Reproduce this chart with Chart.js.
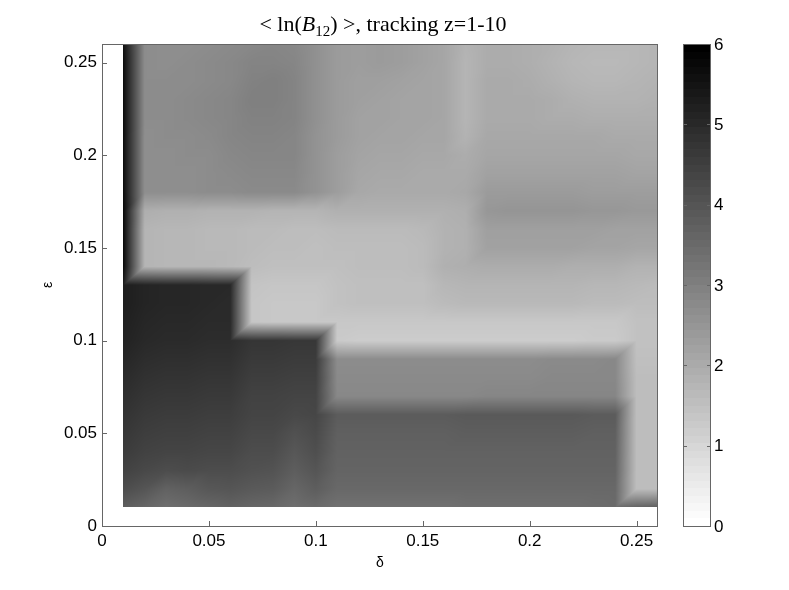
<!DOCTYPE html>
<html>
<head>
<meta charset="utf-8">
<script src="https://cdn.jsdelivr.net/npm/chart.js@4.4.1/dist/chart.umd.min.js"></script>
<style>
  html, body { margin: 0; padding: 0; background: #fff; }
</style>
</head>
<body>
<canvas id="c" width="789" height="590"></canvas>
<script>
// ── Data: <ln(B12)> on the (delta, epsilon) grid ──

const deltaGrid = [0.01, 0.02, 0.03, 0.04, 0.05, 0.06, 0.07, 0.08, 0.09, 0.10, 0.11, 0.12, 0.13,
                   0.14, 0.15, 0.16, 0.17, 0.18, 0.19, 0.20, 0.21, 0.22, 0.23, 0.24, 0.25, 0.26];
const epsGrid   = [0.01, 0.02, 0.03, 0.04, 0.05, 0.06, 0.07, 0.08, 0.09, 0.10, 0.11, 0.12, 0.13,
                   0.14, 0.15, 0.16, 0.17, 0.18, 0.19, 0.20, 0.21, 0.22, 0.23, 0.24, 0.25, 0.26];

// one row per epsilon value, columns follow deltaGrid
const e01 = [3.8, 3.6, 3.4, 3.5, 3.6, 3.7, 3.6, 3.55, 3.4, 3.5, 3.35, 3.35, 3.35, 3.35, 3.35, 3.35, 3.4, 3.4, 3.4, 3.4, 3.4, 3.4, 3.45, 3.5, 3.7, 3.8];
const e02 = [4.2, 4.0, 3.7, 3.8, 3.95, 4.0, 3.9, 3.85, 3.6, 3.8, 3.55, 3.55, 3.55, 3.55, 3.55, 3.55, 3.55, 3.55, 3.55, 3.55, 3.55, 3.55, 3.55, 3.55, 1.55, 1.55];
const e03 = [4.45, 4.3, 4.2, 4.25, 4.2, 4.2, 4.1, 4.05, 3.8, 4.0, 3.65, 3.65, 3.65, 3.65, 3.65, 3.65, 3.65, 3.65, 3.65, 3.65, 3.65, 3.65, 3.65, 3.65, 1.55, 1.55];
const e04 = [4.6, 4.45, 4.4, 4.4, 4.35, 4.35, 4.2, 4.2, 3.95, 4.15, 3.7, 3.7, 3.7, 3.7, 3.7, 3.7, 3.7, 3.7, 3.7, 3.7, 3.7, 3.7, 3.7, 3.7, 1.55, 1.55];
const e05 = [4.7, 4.55, 4.5, 4.5, 4.45, 4.45, 4.3, 4.3, 4.1, 4.25, 3.75, 3.75, 3.75, 3.75, 3.75, 3.75, 3.8, 3.8, 3.8, 3.8, 3.8, 3.8, 3.75, 3.75, 1.55, 1.55];
const e06 = [4.8, 4.65, 4.6, 4.6, 4.55, 4.55, 4.4, 4.4, 4.3, 4.35, 3.85, 3.85, 3.85, 3.85, 3.85, 3.85, 3.9, 3.9, 3.9, 3.9, 3.9, 3.9, 3.85, 3.85, 1.55, 1.55];
const e07 = [4.9, 4.75, 4.7, 4.7, 4.65, 4.65, 4.45, 4.45, 4.4, 4.4, 2.8, 2.8, 2.8, 2.8, 2.8, 2.8, 2.8, 2.85, 2.85, 2.85, 2.85, 2.85, 2.85, 2.85, 1.55, 1.55];
const e08 = [5.0, 4.85, 4.8, 4.8, 4.75, 4.75, 4.55, 4.55, 4.5, 4.5, 2.75, 2.75, 2.75, 2.75, 2.75, 2.75, 2.75, 2.75, 2.75, 2.75, 2.8, 2.8, 2.8, 2.8, 1.55, 1.55];
const e09 = [5.1, 4.95, 4.9, 4.9, 4.85, 4.85, 4.65, 4.65, 4.6, 4.6, 2.7, 2.7, 2.7, 2.7, 2.7, 2.7, 2.7, 2.7, 2.7, 2.7, 2.75, 2.75, 2.75, 2.8, 1.5, 1.5];
const e10 = [5.2, 5.05, 5.0, 5.0, 4.95, 4.95, 4.75, 4.75, 4.7, 4.7, 1.25, 1.2, 1.2, 1.2, 1.2, 1.2, 1.2, 1.2, 1.2, 1.2, 1.2, 1.2, 1.25, 1.25, 1.45, 1.45];
const e11 = [5.25, 5.1, 5.05, 5.05, 5.0, 5.0, 1.35, 1.3, 1.3, 1.3, 1.3, 1.3, 1.3, 1.3, 1.3, 1.3, 1.3, 1.3, 1.3, 1.3, 1.3, 1.3, 1.3, 1.3, 1.45, 1.45];
const e12 = [5.3, 5.15, 5.1, 5.1, 5.05, 5.0, 1.35, 1.3, 1.3, 1.3, 1.45, 1.5, 1.5, 1.5, 1.5, 1.6, 1.65, 1.65, 1.65, 1.65, 1.65, 1.65, 1.6, 1.6, 1.55, 1.55];
const e13 = [5.3, 5.15, 5.1, 5.1, 5.05, 5.05, 1.4, 1.35, 1.35, 1.35, 1.45, 1.5, 1.5, 1.5, 1.5, 1.7, 1.75, 1.75, 1.75, 1.75, 1.75, 1.75, 1.7, 1.7, 1.65, 1.6];
const e14 = [5.75, 1.75, 1.7, 1.7, 1.7, 1.65, 1.55, 1.5, 1.5, 1.5, 1.5, 1.55, 1.55, 1.55, 1.6, 1.85, 1.9, 1.95, 1.95, 1.95, 1.95, 1.9, 1.9, 1.9, 1.8, 1.8];
const e15 = [5.75, 1.75, 1.7, 1.7, 1.65, 1.65, 1.6, 1.55, 1.55, 1.5, 1.55, 1.55, 1.55, 1.55, 1.6, 1.8, 1.85, 2.2, 2.2, 2.2, 2.2, 2.2, 2.15, 2.15, 2.1, 2.1];
const e16 = [5.75, 1.75, 1.7, 1.7, 1.65, 1.65, 1.6, 1.6, 1.55, 1.55, 1.6, 1.6, 1.6, 1.6, 1.65, 1.8, 1.85, 2.25, 2.25, 2.25, 2.25, 2.25, 2.25, 2.2, 2.2, 2.2];
const e17 = [5.75, 1.9, 1.85, 1.85, 1.8, 1.8, 1.8, 1.75, 1.75, 1.75, 1.85, 1.85, 1.85, 1.85, 1.85, 1.85, 1.9, 2.45, 2.5, 2.5, 2.5, 2.5, 2.45, 2.45, 2.4, 2.4];
const e18 = [5.7, 2.65, 2.65, 2.65, 2.7, 2.7, 2.75, 2.75, 2.75, 2.55, 2.3, 2.05, 2.0, 2.0, 2.0, 2.0, 2.05, 2.35, 2.35, 2.35, 2.35, 2.35, 2.3, 2.3, 2.3, 2.3];
const e19 = [5.7, 2.65, 2.65, 2.65, 2.7, 2.75, 2.8, 2.8, 2.8, 2.55, 2.3, 2.1, 2.05, 2.05, 2.0, 2.0, 2.0, 2.2, 2.2, 2.2, 2.2, 2.2, 2.2, 2.2, 2.15, 2.15];
const e20 = [5.7, 2.65, 2.65, 2.7, 2.7, 2.8, 2.85, 2.85, 2.85, 2.55, 2.3, 2.15, 2.1, 2.1, 2.05, 2.05, 1.95, 2.1, 2.1, 2.1, 2.1, 2.1, 2.1, 2.1, 2.05, 2.05];
const e21 = [5.7, 2.65, 2.7, 2.7, 2.75, 2.85, 2.9, 2.9, 2.85, 2.55, 2.35, 2.2, 2.15, 2.15, 2.1, 2.1, 1.8, 2.05, 2.05, 2.05, 2.05, 2.05, 2.05, 2.0, 2.0, 2.0];
const e22 = [5.7, 2.7, 2.7, 2.75, 2.8, 2.85, 2.95, 2.95, 2.9, 2.6, 2.35, 2.2, 2.2, 2.15, 2.15, 2.1, 1.75, 2.0, 2.0, 2.0, 1.95, 1.95, 1.9, 1.9, 1.9, 1.9];
const e23 = [5.7, 2.7, 2.7, 2.75, 2.8, 2.85, 3.0, 3.0, 2.9, 2.6, 2.35, 2.25, 2.2, 2.15, 2.15, 2.1, 1.75, 2.0, 2.0, 2.0, 1.95, 1.85, 1.8, 1.8, 1.8, 1.85];
const e24 = [5.7, 2.7, 2.7, 2.7, 2.75, 2.8, 2.95, 3.0, 2.9, 2.6, 2.35, 2.25, 2.25, 2.2, 2.15, 2.1, 1.75, 2.0, 2.0, 1.95, 1.85, 1.75, 1.7, 1.7, 1.75, 1.8];
const e25 = [5.7, 2.7, 2.65, 2.7, 2.75, 2.8, 2.9, 2.9, 2.85, 2.6, 2.35, 2.3, 2.35, 2.3, 2.2, 2.1, 1.75, 1.95, 1.95, 1.9, 1.8, 1.7, 1.65, 1.65, 1.7, 1.75];
const e26 = [5.6, 2.7, 2.65, 2.65, 2.7, 2.75, 2.8, 2.85, 2.8, 2.6, 2.35, 2.3, 2.35, 2.3, 2.2, 2.1, 1.8, 1.95, 1.95, 1.9, 1.85, 1.75, 1.7, 1.7, 1.7, 1.75];

const rows = [e01, e02, e03, e04, e05, e06, e07, e08, e09, e10, e11, e12, e13,
              e14, e15, e16, e17, e18, e19, e20, e21, e22, e23, e24, e25, e26];

const xTicks  = [0, 0.05, 0.1, 0.15, 0.2, 0.25];
const yTicks  = [0, 0.05, 0.1, 0.15, 0.2, 0.25];
const cbTicks = [0, 1, 2, 3, 4, 5, 6];
const axisMax = 0.26;
const cbMin = 0, cbMax = 6, nLevels = 64;   // flipped 'gray' colormap, 64 steps

// ── Helpers ───────────────────────────────────────────────

const SANS  = '"Liberation Sans", Arial, sans-serif';
const SERIF = '"Liberation Serif", "Times New Roman", serif';
const AXIS_COLOR = '#666';

const fmt = v => String(+v.toFixed(2));

function cellOf(grid, v) {
  let i = 0;
  while (i < grid.length - 2 && v > grid[i + 1]) i++;
  const t = (v - grid[i]) / (grid[i + 1] - grid[i]);
  return [i, Math.min(1, Math.max(0, t))];
}

// quads split along the (i,j)-(i+1,j+1) diagonal, linear inside each triangle
function valueAt(i, u, j, w) {
  const v00 = rows[j][i],     v10 = rows[j][i + 1];
  const v01 = rows[j + 1][i], v11 = rows[j + 1][i + 1];
  if (u >= w) return v00 + u * (v10 - v00) + w * (v11 - v10);
  return v00 + w * (v01 - v00) + u * (v11 - v01);
}

// smooth (interpolated) shading on the surface
function grayFor(v) {
  const t = Math.max(0, Math.min(1, (v - cbMin) / (cbMax - cbMin)));
  return Math.round(255 * (1 - t));
}

// ── Plugins ───────────────────────────────────────────────

const heatmapPlugin = {
  id: 'heatmap',
  beforeDatasetsDraw(chart) {
    const { ctx, chartArea: a, scales: { x, y } } = chart;

    // inward ticks on all four sides (under the image, like MATLAB)
    ctx.save();
    ctx.strokeStyle = AXIS_COLOR;
    ctx.lineWidth = 1;
    ctx.beginPath();
    xTicks.forEach(v => {
      const px = Math.round(x.getPixelForValue(v)) + 0.5;
      ctx.moveTo(px, a.bottom); ctx.lineTo(px, a.bottom - 5);
      ctx.moveTo(px, a.top);    ctx.lineTo(px, a.top + 5);
    });
    yTicks.forEach(v => {
      const py = Math.round(y.getPixelForValue(v)) + 0.5;
      ctx.moveTo(a.left, py);  ctx.lineTo(a.left + 5, py);
      ctx.moveTo(a.right, py); ctx.lineTo(a.right - 5, py);
    });
    ctx.stroke();
    ctx.restore();

    // interpolated surface
    const px0 = Math.round(x.getPixelForValue(deltaGrid[0]));
    const px1 = Math.round(x.getPixelForValue(deltaGrid[deltaGrid.length - 1]));
    const py0 = Math.round(y.getPixelForValue(epsGrid[epsGrid.length - 1]));
    const py1 = Math.round(y.getPixelForValue(epsGrid[0]));
    const w = px1 - px0, h = py1 - py0;

    const off = document.createElement('canvas');
    off.width = w; off.height = h;
    const octx = off.getContext('2d');
    const img = octx.createImageData(w, h);

    const cols = [];
    for (let c = 0; c < w; c++) cols.push(cellOf(deltaGrid, x.getValueForPixel(px0 + c + 0.5)));
    for (let r = 0; r < h; r++) {
      const [j, t] = cellOf(epsGrid, y.getValueForPixel(py0 + r + 0.5));
      for (let c = 0; c < w; c++) {
        const [i, u] = cols[c];
        const g = grayFor(valueAt(i, u, j, t));
        const k = (r * w + c) * 4;
        img.data[k] = img.data[k + 1] = img.data[k + 2] = g;
        img.data[k + 3] = 255;
      }
    }
    octx.putImageData(img, 0, 0);
    ctx.drawImage(off, px0, py0);
  },

  afterDraw(chart) {
    const { ctx, chartArea: a, scales: { cb } } = chart;
    ctx.save();

    // axes box
    ctx.strokeStyle = AXIS_COLOR;
    ctx.lineWidth = 1;
    ctx.strokeRect(a.left + 0.5, a.top + 0.5, a.right - a.left - 1, a.bottom - a.top);

    // colorbar
    const cbLeft = a.right + 25, cbRight = a.right + 53;
    for (let k = 0; k < nLevels; k++) {
      const yTop = Math.round(cb.getPixelForValue(cbMin + (cbMax - cbMin) * (k + 1) / nLevels));
      const yBot = Math.round(cb.getPixelForValue(cbMin + (cbMax - cbMin) * k / nLevels));
      const g = Math.round(255 * (1 - k / (nLevels - 1)));
      ctx.fillStyle = `rgb(${g},${g},${g})`;
      ctx.fillRect(cbLeft, yTop, cbRight - cbLeft, yBot - yTop);
    }
    ctx.strokeRect(cbLeft + 0.5, a.top + 0.5, cbRight - cbLeft - 1, a.bottom - a.top);
    ctx.beginPath();
    cbTicks.forEach(v => {
      const py = Math.round(cb.getPixelForValue(v)) + 0.5;
      ctx.moveTo(cbLeft, py);  ctx.lineTo(cbLeft + 4, py);
      ctx.moveTo(cbRight, py); ctx.lineTo(cbRight - 4, py);
    });
    ctx.stroke();

    ctx.fillStyle = '#000';
    ctx.font = `17px ${SANS}`;
    ctx.textAlign = 'left';
    ctx.textBaseline = 'middle';
    cbTicks.forEach(v => ctx.fillText(String(v), cbRight + 3, cb.getPixelForValue(v) + 1));

    // axis labels
    ctx.font = `14px ${SANS}`;
    ctx.textAlign = 'center';
    ctx.fillText('δ', (a.left + a.right) / 2, 563);
    ctx.save();
    ctx.translate(48, (a.top + a.bottom) / 2);
    ctx.rotate(-Math.PI / 2);
    ctx.fillText('ε', 0, 0);
    ctx.restore();

    // title: < ln(B_12) >, tracking z=1-10
    const size = 22;
    const parts = [
      { t: '< ln(', f: `${size}px ${SERIF}`, dy: 0 },
      { t: 'B', f: `italic ${size}px ${SERIF}`, dy: 0 },
      { t: '12', f: `${Math.round(size * 0.68)}px ${SERIF}`, dy: 5 },
      { t: ') >, tracking z=1-10', f: `${size}px ${SERIF}`, dy: 0 },
    ];
    let total = 0;
    parts.forEach(p => { ctx.font = p.f; p.w = ctx.measureText(p.t).width; total += p.w; });
    let tx = 383 - total / 2;
    ctx.textAlign = 'left';
    ctx.textBaseline = 'alphabetic';
    parts.forEach(p => { ctx.font = p.f; ctx.fillText(p.t, tx, 31 + p.dy); tx += p.w; });

    ctx.restore();
  }
};

// ── Chart ─────────────────────────────────────────────────

const tickFont = { family: SANS, size: 17 };

new Chart(document.getElementById('c'), {
  type: 'scatter',
  data: { datasets: [] },
  options: {
    responsive: false,
    animation: false,
    devicePixelRatio: 1,
    layout: { padding: { top: 44, right: 131, bottom: 0, left: 0 } },
    plugins: { legend: { display: false }, tooltip: { enabled: false } },
    scales: {
      x: {
        type: 'linear', position: 'bottom', min: 0, max: axisMax,
        grid: { display: false, drawTicks: false }, border: { display: false },
        ticks: { font: tickFont, color: '#000', padding: 5, maxRotation: 0, autoSkip: false, callback: fmt },
        afterBuildTicks: s => { s.ticks = xTicks.map(v => ({ value: v })); },
        afterFit: s => { s.height = 64; },
      },
      y: {
        type: 'linear', position: 'left', min: 0, max: axisMax,
        grid: { display: false, drawTicks: false }, border: { display: false },
        ticks: { font: tickFont, color: '#000', padding: 5, autoSkip: false, callback: fmt },
        afterBuildTicks: s => { s.ticks = yTicks.map(v => ({ value: v })); },
        afterFit: s => { s.width = 102; },
      },
      cb: { type: 'linear', position: 'right', min: cbMin, max: cbMax, display: false },
    },
  },
  plugins: [heatmapPlugin],
});
</script>
</body>
</html>
